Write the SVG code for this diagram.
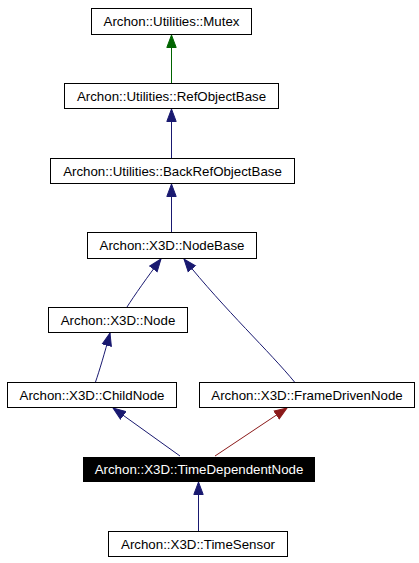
<svg xmlns="http://www.w3.org/2000/svg" width="419" height="563" viewBox="0 0 419 563">
<style>
.box{fill:#fff;stroke:#000;stroke-width:1}
.sel{fill:#000;stroke:#000;stroke-width:1}
text{font-family:"Liberation Sans",Arial,sans-serif;font-size:13.3px;text-anchor:middle;fill:#000}
.w{fill:#fff}
.e{fill:none;stroke-width:1}
.b{stroke:#191970;marker-end:url(#ab)}
.g{stroke:#006400;marker-end:url(#ag)}
.r{stroke:#8b1a1a;marker-end:url(#ar)}
</style>
<defs>
<marker id="ab" markerUnits="userSpaceOnUse" markerWidth="14" markerHeight="12" viewBox="-13 -6 14 12" refX="0" refY="0" orient="auto"><path d="M0,0 L-12.5,-4.7 L-12.5,4.7 Z" fill="#191970" stroke="#191970"/></marker>
<marker id="ag" markerUnits="userSpaceOnUse" markerWidth="14" markerHeight="12" viewBox="-13 -6 14 12" refX="0" refY="0" orient="auto"><path d="M0,0 L-12.5,-4.7 L-12.5,4.7 Z" fill="#006400" stroke="#006400"/></marker>
<marker id="ar" markerUnits="userSpaceOnUse" markerWidth="14" markerHeight="12" viewBox="-13 -6 14 12" refX="0" refY="0" orient="auto"><path d="M0,0 L-12.5,-4.7 L-12.5,4.7 Z" fill="#8b1a1a" stroke="#8b1a1a"/></marker>
</defs>
<g id="edges">
<path class="e g" d="M171.5,83 L171.5,35"/>
<path class="e b" d="M171.5,158 L171.5,109"/>
<path class="e b" d="M171.5,232 L171.5,184"/>
<path class="e b" d="M127,307 C134,296 148,276 161,259"/>
<path class="e b" d="M294.5,382 C270,352 225,310 184,259"/>
<path class="e b" d="M95.5,382 C99,372 105,352 110,333"/>
<path class="e b" d="M180,456 L113,408"/>
<path class="e r" d="M215,456 L287,408"/>
<path class="e b" d="M198.5,531 L198.5,482"/>
</g>
<g id="mutex"><rect class="box" x="91.5" y="8.5" width="160" height="26"/><text x="171.5" y="26">Archon::Utilities::Mutex</text></g>
<g id="refobjectbase"><rect class="box" x="64.5" y="83.5" width="214" height="25"/><text x="171.5" y="100.5">Archon::Utilities::RefObjectBase</text></g>
<g id="backrefobjectbase"><rect class="box" x="50.5" y="158.5" width="244" height="25"/><text x="172.5" y="175.5">Archon::Utilities::BackRefObjectBase</text></g>
<g id="nodebase"><rect class="box" x="87.5" y="232.5" width="169" height="26"/><text x="172" y="250">Archon::X3D::NodeBase</text></g>
<g id="node"><rect class="box" x="48.5" y="307.5" width="139" height="25"/><text x="118" y="324.5">Archon::X3D::Node</text></g>
<g id="childnode"><rect class="box" x="7.5" y="382.5" width="169" height="25"/><text x="92" y="399.5">Archon::X3D::ChildNode</text></g>
<g id="framedrivennode"><rect class="box" x="199.5" y="382.5" width="215" height="25"/><text x="307" y="399.5">Archon::X3D::FrameDrivenNode</text></g>
<g id="timedependentnode"><rect class="sel" x="83.5" y="457.5" width="231" height="24"/><text class="w" x="199" y="474">Archon::X3D::TimeDependentNode</text></g>
<g id="timesensor"><rect class="box" x="108.5" y="531.5" width="179" height="25"/><text x="198" y="548.5">Archon::X3D::TimeSensor</text></g>
</svg>
